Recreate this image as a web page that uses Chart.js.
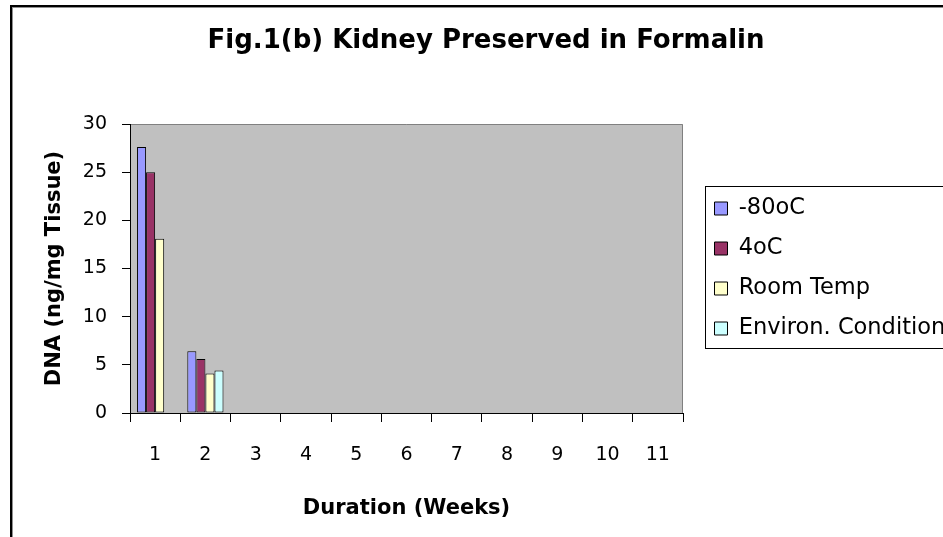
<!DOCTYPE html>
<html>
<head>
<meta charset="utf-8">
<script src="https://cdn.jsdelivr.net/npm/chart.js@4/dist/chart.umd.min.js"></script>
<style>
html,body{margin:0;padding:0;background:#fff;overflow:hidden;width:943px;height:537px}
#wrap{position:absolute;left:0;top:0;width:960px;height:537px}
</style>
</head>
<body>
<div id="wrap"><canvas id="c" width="960" height="537"></canvas></div>
<script>
// ---- data ----
const chartTitle = 'Fig.1(b) Kidney Preserved in Formalin';
const xAxisTitle = 'Duration (Weeks)';
const yAxisTitle = 'DNA (ng/mg Tissue)';
const weeks = ['1', '2', '3', '4', '5', '6', '7', '8', '9', '10', '11'];
const seriesNames = ['-80oC', '4oC', 'Room Temp', 'Environ. Condition'];
const minus80 = [27.6, 6.4, null, null, null, null, null, null, null, null, null];
const fourC = [25.0, 5.6, null, null, null, null, null, null, null, null, null];
const roomTemp = [18.1, 4.1, null, null, null, null, null, null, null, null, null];
const environ = [null, 4.4, null, null, null, null, null, null, null, null, null];
const yTicks = [0, 5, 10, 15, 20, 25, 30];

// ---- styles ----
const seriesColors = ['#9999FF', '#993366', '#FFFFCC', '#CCFFFF'];
const seriesValues = [minus80, fourC, roomTemp, environ];

const FONT = '"DejaVu Sans", Verdana, sans-serif';
const PLOT_LEFT = 130, PLOT_RIGHT = 683, PLOT_TOP = 124, PLOT_BOTTOM = 413;
const GAP_RIGHT = 14;          // space between plot and legend column
const LEG_FONT = 22.5;
const LEG_PAD = 40 - LEG_FONT; // legend row pitch 40px
const TITLE_SIZE = 26;

const bgPlugin = {
  id: 'bgPlugin',
  beforeLayout(chart) {
    const lg = chart.legend;
    if (lg && !lg.__fixed) {
      const fit = lg.fit;
      lg.fit = function () {
        fit.call(this);
        this.width = chart.width - PLOT_RIGHT - GAP_RIGHT;
      };
      lg.__fixed = true;
    }
  },
  beforeDraw(chart) {
    const { ctx, chartArea: a, width, height } = chart;
    ctx.save();
    ctx.fillStyle = '#ffffff';
    ctx.fillRect(0, 0, width, height);
    ctx.fillStyle = '#c0c0c0';
    ctx.fillRect(a.left, a.top, a.right - a.left, a.bottom - a.top);
    ctx.strokeStyle = '#808080';
    ctx.lineWidth = 1;
    ctx.beginPath();
    ctx.moveTo(a.left, a.top + 0.5);
    ctx.lineTo(a.right - 0.5, a.top + 0.5);
    ctx.lineTo(a.right - 0.5, a.bottom);
    ctx.stroke();
    // outer chart frame
    ctx.fillStyle = '#000';
    ctx.fillRect(10, 5, 2, height - 5);
    ctx.fillRect(10, 5, width - 10, 2);
    ctx.fillStyle = '#909090';
    ctx.fillRect(12, 7, 1, height - 7);
    ctx.fillRect(12, 7, width - 12, 1);
    ctx.restore();
  },
  afterDraw(chart) {
    const lg = chart.legend;
    if (!lg) return;
    const n = seriesNames.length;
    const colH = n * (LEG_FONT + LEG_PAD);
    const y0 = (lg.top + LEG_PAD + lg.bottom - colH) / 2;
    const top = Math.round(y0 - 11) + 0.5;
    const bottom = Math.round(y0 + colH - LEG_PAD + 8) + 0.5;
    const left = Math.round(lg.left + 8) + 0.5;
    const ctx = chart.ctx;
    ctx.save();
    ctx.strokeStyle = '#000';
    ctx.lineWidth = 1;
    ctx.strokeRect(left, top, 400, bottom - top);
    ctx.restore();
  }
};

const datasets = seriesNames.map((name, i) => ({
  label: name,
  data: seriesValues[i],
  backgroundColor: seriesColors[i],
  borderColor: '#000000',
  borderWidth: 1,
  borderSkipped: false,
  categoryPercentage: 0.72,
  barPercentage: 1.0
}));

new Chart(document.getElementById('c'), {
  type: 'bar',
  data: { labels: weeks, datasets },
  plugins: [bgPlugin],
  options: {
    responsive: false,
    animation: false,
    devicePixelRatio: 1,
    layout: { padding: { left: 12, right: 0, top: 0, bottom: 0 } },
    plugins: {
      tooltip: { enabled: false },
      title: {
        display: true,
        text: chartTitle,
        color: '#000',
        font: { family: FONT, size: TITLE_SIZE, weight: 'bold', lineHeight: 1.2 },
        padding: { top: 26, bottom: PLOT_TOP - TITLE_SIZE * 1.2 - 26 }
      },
      legend: {
        display: true,
        position: 'right',
        align: 'center',
        labels: {
          color: '#000',
          boxWidth: 13,
          boxHeight: 13,
          padding: LEG_PAD,
          font: { family: FONT, size: LEG_FONT }
        }
      }
    },
    scales: {
      x: {
        type: 'category',
        offset: true,
        grid: { display: true, drawOnChartArea: false, drawTicks: true, tickLength: 9, color: '#000', offset: true },
        border: { display: true, color: '#000', width: 1 },
        ticks: {
          color: '#000', maxRotation: 0, autoSkip: false, padding: 22,
          font: { family: FONT, size: 19 }
        },
        title: {
          display: true, text: xAxisTitle, color: '#000',
          font: { family: FONT, size: 21, weight: 'bold', lineHeight: 1.2 },
          padding: { top: 0, bottom: 16 }
        },
        afterFit(s) { s.height = 537 - PLOT_BOTTOM; }
      },
      y: {
        type: 'linear',
        min: yTicks[0],
        max: yTicks[yTicks.length - 1],
        grid: { display: true, drawOnChartArea: false, drawTicks: true, tickLength: 8, color: '#000' },
        border: { display: true, color: '#000', width: 1 },
        ticks: {
          stepSize: yTicks[1] - yTicks[0], color: '#000', padding: 15,
          font: { family: FONT, size: 19 }
        },
        title: {
          display: true, text: yAxisTitle, color: '#000',
          font: { family: FONT, size: 21, weight: 'bold', lineHeight: 1.2 },
          padding: { top: 30, bottom: 0 }
        },
        afterFit(s) { s.width = PLOT_LEFT - 12; }
      },
      gap: {
        type: 'linear',
        position: 'right',
        display: true,
        grid: { display: false },
        border: { display: false },
        ticks: { display: false },
        afterFit(s) { s.width = GAP_RIGHT; }
      }
    }
  }
});
</script>
</body>
</html>
